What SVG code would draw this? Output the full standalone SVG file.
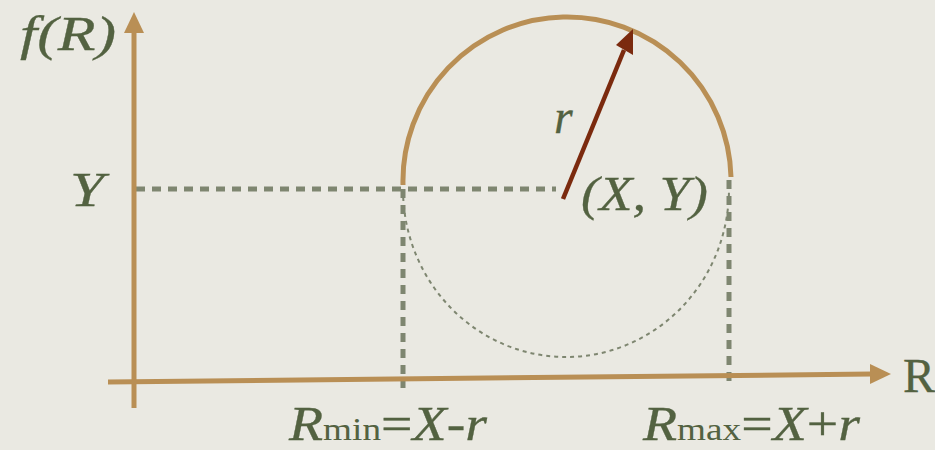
<svg xmlns="http://www.w3.org/2000/svg" width="935" height="450" viewBox="0 0 935 450">
<style>
.axis{stroke:#B98F55;stroke-width:5;fill:none}
.guide{stroke:#7E8670;stroke-width:5;fill:none;stroke-dasharray:9 7}
.lower{stroke:#7E8670;stroke-width:2;fill:none;stroke-dasharray:4 4}
.lbl{font-family:"Liberation Serif","Times New Roman",serif;font-style:italic;fill:#536241;font-size:48px;stroke:#536241;stroke-width:0.3}
.up{font-style:normal}
</style>
<rect width="935" height="450" fill="#EAE9E2"/>
<g id="guides">
<path class="guide" d="M136,189 H556"/>
<path class="guide" d="M403,189 V388"/>
<path class="guide" d="M729,180 V388"/>
<path class="lower" d="M403,189 A163,168 0 0 0 729,189"/>
</g>
<g id="axes">
<path class="axis" d="M134,408 V32"/>
<path d="M124,33 L134,12 L144,33 z" fill="#B98F55"/>
<path class="axis" d="M108,382 L872,374"/>
<path d="M870,364 L891,374 L870,384 z" fill="#B98F55"/>
</g>
<g id="circle">
<path d="M403,185 A164,164 0 0 1 731,177" stroke="#B98F55" stroke-width="5" fill="none"/>
</g>
<g id="radius">
<path d="M563,199 L624,50" stroke="#7B2A0E" stroke-width="4.5" fill="none"/>
<path d="M616,45 L633,29 L633,55 z" fill="#7B2A0E"/>
</g>
<g id="labels">
<text class="lbl" x="20" y="50" textLength="96" lengthAdjust="spacingAndGlyphs">f(R)</text>
<text class="lbl" x="70" y="206" textLength="34" lengthAdjust="spacingAndGlyphs">Y</text>
<text class="lbl" x="554" y="133">r</text>
<text class="lbl" x="581" y="210" textLength="127" lengthAdjust="spacingAndGlyphs">(X, Y)</text>
<text class="lbl" x="289" y="440" font-size="46" textLength="198" lengthAdjust="spacingAndGlyphs">R<tspan class="up" font-size="32" stroke-width="0">min</tspan><tspan class="up">=</tspan>X<tspan class="up">-</tspan>r</text>
<text class="lbl" x="643" y="440" font-size="46" textLength="217" lengthAdjust="spacingAndGlyphs">R<tspan class="up" font-size="32" stroke-width="0">max</tspan><tspan class="up">=</tspan>X<tspan class="up">+</tspan>r</text>
<text class="lbl up" x="903" y="392" font-size="46" stroke-width="0">R</text>
</g>
</svg>
